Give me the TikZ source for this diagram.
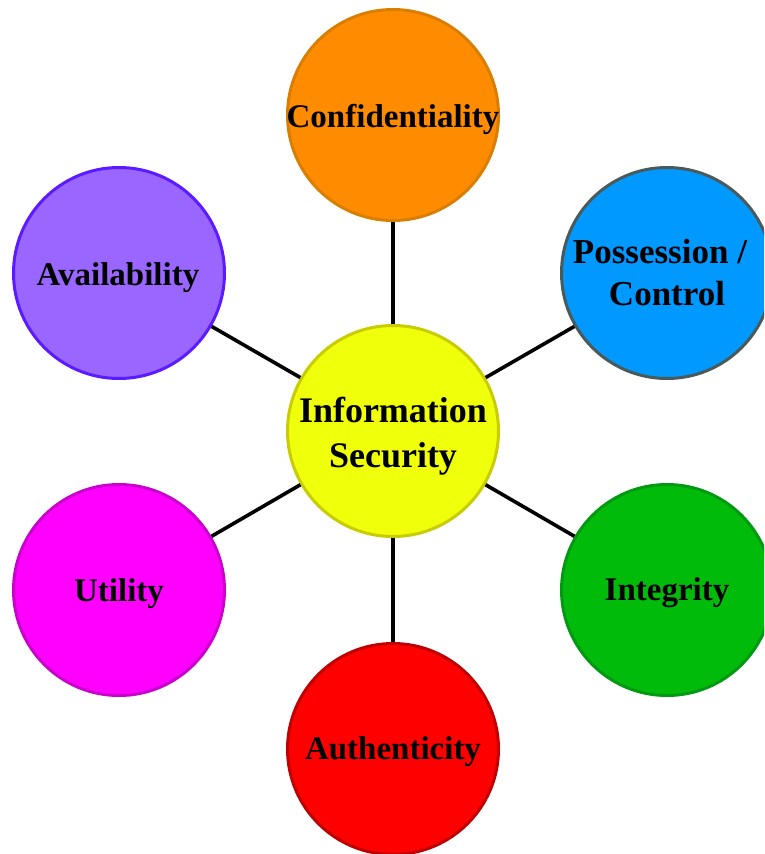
\documentclass[tikz,border=0pt]{standalone}
\usepackage{fontspec}
\setmainfont{Liberation Serif}
\definecolor{orF}{HTML}{FF8C00}\definecolor{orB}{HTML}{D97E00}
\definecolor{blF}{HTML}{0099FF}\definecolor{blB}{HTML}{4A5A5A}
\definecolor{yeF}{HTML}{F0FF0A}\definecolor{yeB}{HTML}{C8CC00}
\definecolor{puF}{HTML}{9966FF}\definecolor{puB}{HTML}{5B1AFF}
\definecolor{grF}{HTML}{00BB0A}\definecolor{grB}{HTML}{009A12}
\definecolor{maF}{HTML}{FF00FF}\definecolor{maB}{HTML}{CC00CC}
\definecolor{reF}{HTML}{FF0000}\definecolor{reB}{HTML}{C00000}
\begin{document}
\begin{tikzpicture}[x=1pt,y=-1pt,
  bubble/.style={circle,minimum size=211pt,inner sep=0pt,line width=3pt},
  lbl/.style={anchor=base,inner sep=0pt,font=\fontsize{33}{40}\selectfont\bfseries},
  plbl/.style={anchor=base,inner sep=0pt,font=\fontsize{35}{42}\selectfont\bfseries},
  clbl/.style={anchor=base,inner sep=0pt,font=\fontsize{36}{44}\selectfont\bfseries},
  link/.style={line width=3.6pt,black}]
\useasboundingbox (0,0) rectangle (764,854);
\clip (0,0) rectangle (764,854);
\node[bubble,draw=yeB,fill=yeF] (c) at (393,431) {};
\node[bubble,draw=orB,fill=orF] (conf) at (393,115) {};
\node[bubble,draw=blB,fill=blF] (poss) at (667,273) {};
\node[bubble,draw=grB,fill=grF] (integ) at (667,590) {};
\node[bubble,draw=reB,fill=reF] (auth) at (393,749) {};
\node[bubble,draw=maB,fill=maF] (util) at (119,590) {};
\node[bubble,draw=puB,fill=puF] (avail) at (119,273) {};
\foreach \n in {conf,poss,integ,auth,util,avail} \draw[link] (c) -- (\n);
\node[clbl] (t1) at (393,422) {Information};
\node[clbl] (t2) at (393,467) {Security};
\node[lbl] (t3) at (393,127) {Confidentiality};
\node[plbl] (t4) at (660,263) {Possession /};
\node[plbl] (t5) at (667,305) {Control};
\node[lbl] (t6) at (667,600) {Integrity};
\node[lbl] (t7) at (393,759) {Authenticity};
\node[lbl] (t8) at (119,601) {Utility};
\node[lbl] (t9) at (118,285) {Availability};
\end{tikzpicture}
\end{document}
